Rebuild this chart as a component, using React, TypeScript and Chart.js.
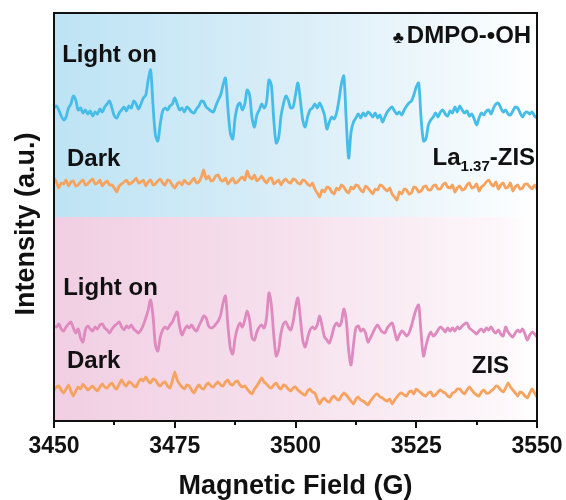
import React, { useEffect, useRef } from "react";
import { Chart, registerables } from "chart.js";

Chart.register(...registerables);

// Magnetic field range (G)
const FIELD_START = 3450;
const FIELD_END = 3550;
const X_TICK_STEP = 25;
const X_MINOR_STEP = 12.5;

// La1.37-ZIS, light on (0.5 G step, a.u.)
const LA_LIGHT = [
  5, 7, 3, -3, -7, -4, 5, 9, 17, 13,
  3, 5, 0, 3, -1, 2, -3, 1, -1, 4,
  1, 6, 9, 12, 5, -3, -5, 0, 3, 6,
  2, 7, 5, 12, 9, 4, 9, 15, 18, 33,
  43, 8, -22, -28, -11, 2, 5, 3, 7, 9,
  15, 9, 3, 5, 1, 6, 4, 1, 0, 4,
  7, 12, 11, 6, 4, 2, 1, 7, 13, 18,
  28, 35, 5, -20, -26, -5, 7, 10, 3, 9,
  23, 18, -5, -14, -2, 3, 9, 5, 11, 33,
  28, -7, -30, -25, -3, 9, 17, 13, 5, 6,
  18, 30, 13, -7, -14, -4, 3, 5, 9, 5,
  10, 5, -2, -16, -9, -4, -6, 0, 13, 29,
  37, -7, -45, -19, -9, -5, -1, -5, 0, -3,
  1, -1, -4, 0, -5, -2, -9, -4, 1, 4,
  6, 2, -1, 1, -2, 3, 7, 10, 12, 18,
  26, 30, -5, -28, -26, -12, -7, -4, 0, -4,
  1, 3, -1, -3, 2, 0, 6, 1, 7, 3,
  0, 2, -3, -1, -6, -12, -5, 0, -2, 2,
  3, -1, 5, 9, 10, 5, 1, 3, -1, -2,
  2, 6, 5, 0, -4, 0, 1, -1, 1, -3,
  -5,
];

// La1.37-ZIS, dark (0.5 G step, a.u.)
const LA_DARK = [
  5, 1, -5, 0, -1, 3, -3, 1, 2, -3, -2, 1, 3, -2, -1, 2, 4, -1, 0, 3,
  -3, 0, 2, -2, -2, -5, -9, -3, -1, 1, 3, -1, 0, 2, 5, 0, 1, 3, -3, 1,
  3, -2, -1, 2, 4, 0, -2, 3, 2, -2, -5, -1, 1, -2, 3, 0, -1, 2, 5, 0,
  1, 6, 13, 4, 7, 2, 3, 7, 8, 3, 2, 5, -1, 2, 5, 0, 1, 4, 6, 3,
  12, 6, 4, 8, 2, 4, 7, 3, 0, 4, 5, -1, 1, 3, -2, 2, 4, 1, 0, 4,
  3, 0, -1, 3, 2, -1, -3, 0, -6, -10, -14, -7, -9, -4, -5, -9, -11, -5, -7, -2,
  -4, -8, -10, -4, -6, -2, -3, -7, -9, -3, -5, -8, -11, -6, -7, -2, -3, -6, -8, -5,
  -11, -14, -17, -9, -11, -6, -7, -11, -10, -4, -5, -9, -8, -4, -3, -7, -7, -3, -2, -6,
  -6, -2, 0, -4, -5, -2, -9, -5, -3, -7, -6, -2, 0, -5, -4, -1, -8, -4, -2, 1,
  3, -1, -3, 1, -6, -2, 0, -5, -4, 0, -8, -4, -2, -6, -5, -1, -1, -4, -6, -2,
  -6,
];

// ZIS, light on (0.5 G step, a.u.)
const ZIS_LIGHT = [
  4, 3, 6, 1, -1, 3, 6, 8, 2, -3,
  1, -8, -12, 0, 4, 1, -1, 3, 1, 5,
  6, 2, 0, -3, 1, 4, 6, 8, 3, 0,
  4, 2, 5, 1, -1, -3, 0, 5, 12, 20,
  30, 14, -15, -21, -7, 0, 3, 1, 5, 8,
  14, 18, 4, -5, 0, 4, 2, 5, 1, -1,
  4, 9, 14, 12, 4, 2, 3, 6, 9, 15,
  27, 34, 5, -18, -24, -8, 2, 7, 3, 10,
  19, 10, -8, -10, -2, 3, 5, 2, 12, 37,
  25, -5, -26, -20, -3, 6, 8, 3, 0, 8,
  23, 32, 12, -10, -17, -8, 0, 3, 1, 5,
  14, 4, -7, -10, -13, -6, 3, 7, 4, 8,
  21, 10, -20, -35, -15, 2, 4, -1, 1, -3,
  -12, -8, -3, 2, 5, 1, -2, -3, 2, 5,
  7, -1, -10, -5, -1, -3, -6, -3, 4, 13,
  21, 25, -3, -26, -16, -7, -2, -6, -4, 0,
  3, 1, -2, 2, -1, 2, -1, 3, 1, 4,
  6, 7, 2, 0, -2, -4, -1, 1, -2, 2,
  0, 3, -1, -3, 0, -4, -6, 3, -2, -5,
  -7, -3, 0, -2, 1, -4, -10, -5, -2, -4,
  -7,
];

// ZIS, dark (0.5 G step, a.u.)
const ZIS_DARK = [
  0, 3, 4, 0, -3, 1, 5, -1, -6, -1, 3, 1, 6, 3, 0, 2, 4, 1, -1, 3,
  6, 3, 2, 5, 7, 3, 1, 6, 10, 6, 4, 8, 7, 4, 3, 8, 11, 9, 13, 9,
  7, 11, 10, 6, 4, 7, 8, 4, 2, 9, 18, 10, 6, 3, 1, 5, 4, 0, -3, 2,
  5, 2, 1, 5, 7, 4, 3, 6, 8, 5, 4, 8, 10, 6, 5, 8, 9, 5, 3, 4,
  1, -2, -4, 1, 4, 8, 12, 8, 6, 3, 2, 5, 7, 3, 1, 5, 4, 1, -1, 2,
  3, 0, -2, -4, -5, -1, 1, -2, -3, -9, -14, -10, -8, -11, -12, -8, -6, -9, -10, -6,
  -3, -5, -8, -11, -14, -9, -7, -10, -11, -13, -15, -11, -8, -5, -4, -7, -8, -10, -11, -9,
  -14, -10, -7, -4, -3, -5, -6, -2, -1, -4, 1, -1, -3, -5, -6, -3, -2, -6, -5, -2,
  0, -2, -3, -6, -7, -3, -2, 1, 1, -2, -4, 0, 3, 0, -3, -5, -6, -2, 0, -3,
  -3, -1, 1, 4, 3, 0, -2, 2, 7, 3, 0, -3, -6, -2, -3, -6, -8, -3, 1, -3,
  -7,
];

// vertical offsets of the stacked spectra (a.u.)
const LA_LIGHT_OFFSET = 308;
const LA_DARK_OFFSET = 238;
const ZIS_LIGHT_OFFSET = 91;
const ZIS_DARK_OFFSET = 31;
const Y_MIN = 0;
const Y_MAX = 408;
const PANEL_SPLIT = 204;

const BLUE = "#46BCE8";
const ORANGE = "#F5A35E";
const PINK = "#DE89BF";

const FONT = "'Liberation Sans', Arial, 'DejaVu Sans', sans-serif";
const Y_TITLE = "Intensity (a.u.)";

type Part = { t: string; size: number; dy?: number; gap?: number };
type Label = { parts: Part[]; field: number; value: number; align: "left" | "right" };

const LABELS: Label[] = [
  { parts: [{ t: "Light on", size: 24 }], field: 3451.7, value: 359, align: "left" },
  { parts: [{ t: "Dark", size: 24 }], field: 3452.7, value: 255, align: "left" },
  { parts: [{ t: "\u2663", size: 17, gap: 3 }, { t: "DMPO-\u2022OH", size: 24 }], field: 3548.8, value: 378, align: "right" },
  { parts: [{ t: "La", size: 24 }, { t: "1.37", size: 15, dy: 6 }, { t: "-ZIS", size: 24 }], field: 3549.6, value: 256, align: "right" },
  { parts: [{ t: "Light on", size: 24 }], field: 3451.9, value: 126, align: "left" },
  { parts: [{ t: "Dark", size: 24 }], field: 3452.7, value: 53, align: "left" },
  { parts: [{ t: "ZIS", size: 24 }], field: 3536.5, value: 48, align: "left" },
];

function toPoints(values: number[], offset: number) {
  const step = (FIELD_END - FIELD_START) / (values.length - 1);
  return values.map((v, i) => ({ x: FIELD_START + i * step, y: v + offset }));
}

const decorPlugin = {
  id: "decor",
  beforeDraw(chart: any) {
    const { ctx, chartArea: a, scales } = chart;
    const ySplit = scales.y.getPixelForValue(PANEL_SPLIT);
    ctx.save();
    const gBlue = ctx.createLinearGradient(a.left, 0, a.right, 0);
    gBlue.addColorStop(0, "#BDE3F4");
    gBlue.addColorStop(0.5, "#DAEEF8");
    gBlue.addColorStop(0.93, "#F8FCFE");
    gBlue.addColorStop(1, "#FFFFFF");
    ctx.fillStyle = gBlue;
    ctx.fillRect(a.left, a.top, a.right - a.left, ySplit - a.top);
    const gPink = ctx.createLinearGradient(a.left, 0, a.right, 0);
    gPink.addColorStop(0, "#F1CEE3");
    gPink.addColorStop(0.5, "#F6E1ED");
    gPink.addColorStop(0.93, "#FDF7FA");
    gPink.addColorStop(1, "#FFFFFF");
    ctx.fillStyle = gPink;
    ctx.fillRect(a.left, ySplit, a.right - a.left, a.bottom - ySplit);
    ctx.restore();
  },
  afterDraw(chart: any) {
    const { ctx, chartArea: a, scales } = chart;
    const xs = scales.x;
    const ys = scales.y;
    ctx.save();
    // frame
    ctx.strokeStyle = "#111";
    ctx.lineWidth = 2;
    ctx.strokeRect(a.left, a.top, a.right - a.left, a.bottom - a.top);
    // tick marks
    for (let v = FIELD_START; v <= FIELD_END + 1e-6; v += X_MINOR_STEP) {
      const px = Math.round(xs.getPixelForValue(v));
      const major = Math.abs(v / X_TICK_STEP - Math.round(v / X_TICK_STEP)) < 1e-6;
      ctx.beginPath();
      ctx.moveTo(px, a.bottom);
      ctx.lineTo(px, a.bottom + (major ? 7 : 4));
      ctx.stroke();
    }
    // y axis title
    ctx.fillStyle = "#111";
    ctx.save();
    ctx.translate(ys.left + 27, ys.getPixelForValue(197));
    ctx.rotate(-Math.PI / 2);
    ctx.font = `bold 27px ${FONT}`;
    ctx.textAlign = "center";
    ctx.textBaseline = "middle";
    ctx.fillText(Y_TITLE, 0, 0);
    ctx.restore();
    // labels
    ctx.textBaseline = "alphabetic";
    ctx.textAlign = "left";
    for (const lab of LABELS) {
      let total = 0;
      const widths = lab.parts.map((p) => {
        ctx.font = `bold ${p.size}px ${FONT}`;
        const w = ctx.measureText(p.t).width + (p.gap || 0);
        total += w;
        return w;
      });
      let x = xs.getPixelForValue(lab.field);
      const y = ys.getPixelForValue(lab.value);
      if (lab.align === "right") x -= total;
      lab.parts.forEach((p, i) => {
        ctx.font = `bold ${p.size}px ${FONT}`;
        ctx.fillText(p.t, x, y + (p.dy || 0));
        x += widths[i];
      });
    }
    ctx.restore();
  },
};

export default function App() {
  const ref = useRef<HTMLCanvasElement | null>(null);
  useEffect(() => {
    if (!ref.current) return;
    const line = (data: any, color: string, tension: number) => ({
      data,
      borderColor: color,
      borderWidth: 2.8,
      pointRadius: 0,
      tension,
      fill: false,
      borderJoinStyle: "round" as const,
      borderCapStyle: "round" as const,
    });
    const chart = new Chart(ref.current, {
      type: "line",
      data: {
        datasets: [
          line(toPoints(LA_LIGHT, LA_LIGHT_OFFSET), BLUE, 0.3),
          line(toPoints(LA_DARK, LA_DARK_OFFSET), ORANGE, 0.15),
          line(toPoints(ZIS_LIGHT, ZIS_LIGHT_OFFSET), PINK, 0.3),
          line(toPoints(ZIS_DARK, ZIS_DARK_OFFSET), ORANGE, 0.15),
        ],
      },
      options: {
        animation: false,
        responsive: false,
        layout: { padding: { top: 13, right: 29, left: 0, bottom: 0 } },
        plugins: { legend: { display: false }, tooltip: { enabled: false } },
        scales: {
          x: {
            type: "linear",
            min: FIELD_START,
            max: FIELD_END,
            grid: { display: false, drawTicks: false },
            border: { display: false },
            ticks: {
              stepSize: X_TICK_STEP,
              autoSkip: false,
              maxRotation: 0,
              padding: 12,
              color: "#111",
              font: { family: FONT, size: 23, weight: "bold" },
              callback: (v: any) => String(v),
            },
            title: {
              display: true,
              text: "Magnetic Field (G)",
              color: "#111",
              font: { family: FONT, size: 27, weight: "bold", lineHeight: 1 },
              padding: { top: 0, bottom: 0 },
            },
            afterFit: (s: any) => {
              s.height = 79;
              s.paddingLeft = 0;
              s.paddingRight = 0;
            },
          },
          y: {
            type: "linear",
            min: Y_MIN,
            max: Y_MAX,
            grid: { display: false, drawTicks: false },
            border: { display: false },
            ticks: { display: false },
            title: { display: false },
            afterFit: (s: any) => {
              s.width = 54;
            },
          },
        },
      } as any,
      plugins: [decorPlugin],
    });
    return () => chart.destroy();
  }, []);
  return (
    <div style={{ position: "absolute", left: 0, top: 0, width: 566, height: 500, background: "#fff" }}>
      <canvas ref={ref} width={566} height={500} style={{ display: "block" }} />
    </div>
  );
}
